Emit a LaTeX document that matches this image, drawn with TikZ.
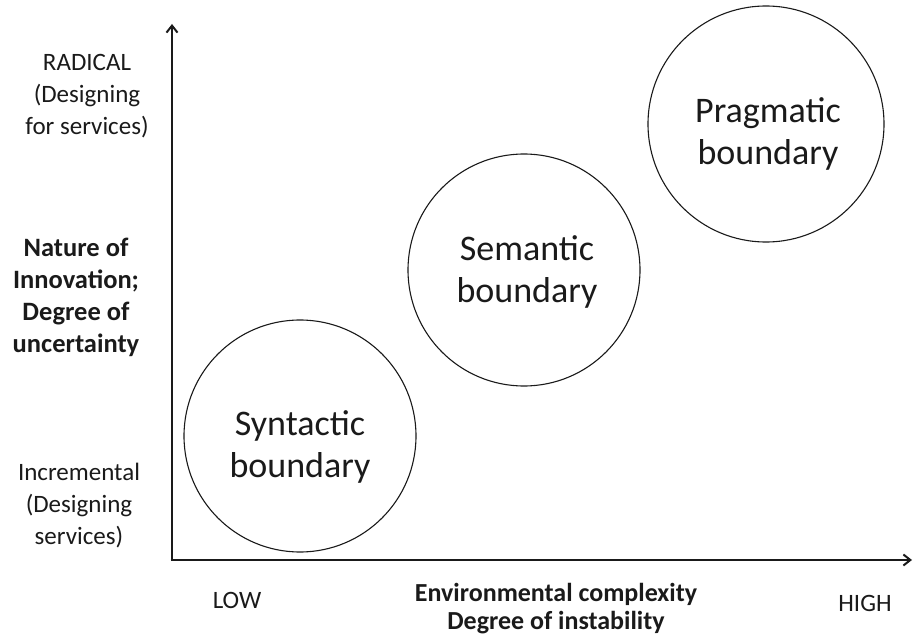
\documentclass[tikz,border=0pt]{standalone}
\usepackage{fontspec}
\setmainfont{Carlito}
\usetikzlibrary{arrows.meta}
\definecolor{ink}{HTML}{1A1A1A}
\tikzset{
  bubble/.style={circle, draw=ink, line width=1.1pt, fill=white, inner sep=0pt},
  bubbletext/.style={align=center, text=ink, font=\fontsize{36}{42}\selectfont},
  axis/.style={line width=2.6pt, draw=ink, -{Straight Barb[length=7pt,width=11pt,line width=2pt]}},
  sidelabel/.style={align=center, text=ink, font=\fontsize{25}{32}\selectfont},
  boldside/.style={align=center, text=ink, font=\fontsize{26.5}{32}\selectfont\bfseries},
  botlabel/.style={align=center, text=ink, font=\fontsize{25}{31}\selectfont},
  boldbot/.style={align=center, text=ink, font=\fontsize{26}{28}\selectfont\bfseries},
}
\begin{document}
\begin{tikzpicture}[x=1pt,y=-1pt]
\useasboundingbox (0,0) rectangle (913,639);
\coordinate (origin) at (172,560);
\coordinate (ytip) at (172,24);
\coordinate (xtip) at (912,560);
\draw[axis] (origin) -- (ytip);
\draw[axis] ([xshift=-1.3pt]origin) -- (xtip);

\node[bubble, minimum size=232pt] (syn) at (300,436) {};
\node[bubble, minimum size=232pt] (sem) at (524,270) {};
\node[bubble, minimum size=236pt] (prag) at (766,124) {};
\node[bubbletext] (synT) at (300,447) {Syntactic\\boundary};
\node[bubbletext] (semT) at (527,272) {Semantic\\boundary};
\node[bubbletext] (pragT) at (768,134) {Pragmatic\\boundary};

\node[sidelabel] (radical) at (87,96) {RADICAL\\(Designing\\for services)};
\node[boldside] (nature) at (76,297) {Nature of\\Innovation;\\Degree of\\uncertainty};
\node[sidelabel] (incr) at (79,506) {Incremental\\(Designing\\services)};

\node[botlabel] (low) at (237,600) {LOW};
\node[boldbot] (env) at (556,609) {Environmental complexity\\Degree of instability};
\node[botlabel] (high) at (865,603) {HIGH};
\end{tikzpicture}
\end{document}
